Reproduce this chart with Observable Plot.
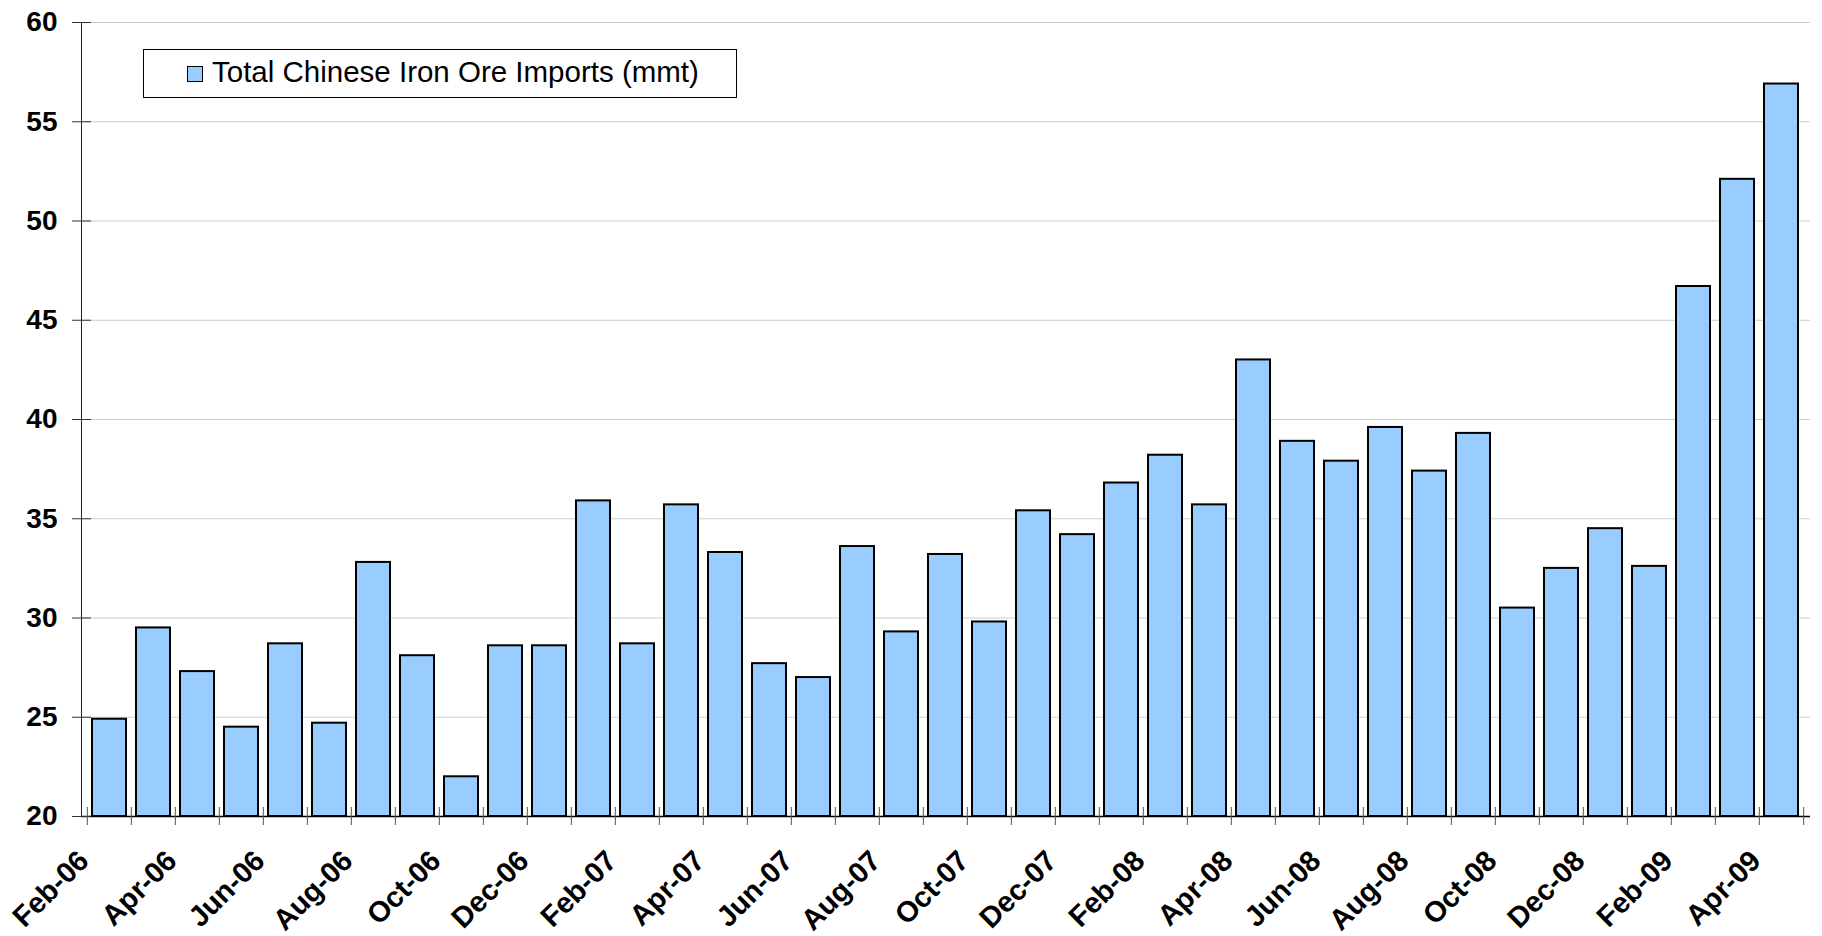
<!DOCTYPE html>
<html><head><meta charset="utf-8">
<script src="https://cdn.jsdelivr.net/npm/d3@7"></script>
<script src="https://cdn.jsdelivr.net/npm/@observablehq/plot@0.6"></script>
<style>
body{margin:0;background:#fff;}
#wrap{position:relative;width:1822px;height:936px;overflow:hidden;}
#legend{position:absolute;left:143px;top:49px;width:592px;height:47px;border:1px solid #000;background:#fff;font-family:"Liberation Sans",Arial,sans-serif;}
#legend .sw{position:absolute;left:43px;top:16px;width:14px;height:14px;border:1.5px solid #000;background:#99ccff;}
#legend .lt{position:absolute;left:68px;top:7px;font-size:29.5px;line-height:29.5px;white-space:nowrap;color:#000;}
</style></head><body>
<div id="wrap"><div id="chart"></div><div id="legend"><span class="sw"></span><span class="lt"></span></div></div>
<script>
const months = ["Feb-06","Mar-06","Apr-06","May-06","Jun-06","Jul-06","Aug-06","Sep-06","Oct-06","Nov-06","Dec-06",
  "Jan-07","Feb-07","Mar-07","Apr-07","May-07","Jun-07","Jul-07","Aug-07","Sep-07","Oct-07","Nov-07","Dec-07",
  "Jan-08","Feb-08","Mar-08","Apr-08","May-08","Jun-08","Jul-08","Aug-08","Sep-08","Oct-08","Nov-08","Dec-08",
  "Jan-09","Feb-09","Mar-09","Apr-09"];
const imports = [24.9,29.5,27.3,24.5,28.7,24.7,32.8,28.1,22.0,28.6,28.6,
  35.9,28.7,35.7,33.3,27.7,27.0,33.6,29.3,33.2,29.8,35.4,34.2,
  36.8,38.2,35.7,43.0,38.9,37.9,39.6,37.4,39.3,30.5,32.5,34.5,
  32.6,46.7,52.1,56.9];
const yTicks = [20,25,30,35,40,45,50,55,60];
const seriesName = "Total Chinese Iron Ore Imports (mmt)";

const data = months.map((m,i)=>({month:m, value:imports[i]}));
const labelMonths = months.filter((m,i)=>i%2===0);
const W=1822,H=936,mL=81,mR=12,mT=22,mB=120;
const step=(W-mL-mR)/months.length;

const chart = Plot.plot({
  width:W,height:H,marginLeft:mL,marginRight:mR,marginTop:mT,marginBottom:mB,
  style:{background:"#fff",overflow:"visible",fontFamily:"'Liberation Sans', Arial, sans-serif",color:"#000"},
  x:{type:"band",domain:months,paddingInner:0.22,paddingOuter:0.11,axis:null},
  y:{domain:[20,60],axis:null},
  marks:[
    Plot.gridY(yTicks.slice(1),{stroke:"#cccccc",strokeOpacity:1,strokeWidth:1}),
    Plot.barY(data,{x:"month",y1:20,y2:"value",fill:"#99ccff",stroke:"#000",strokeWidth:2}),
    Plot.ruleY([20],{stroke:"#000",strokeWidth:1.5}),
    Plot.frame({anchor:"left",stroke:"#222"}),
    Plot.axisY(yTicks,{tickSize:19,dx:10,tickFormat:()=>"",label:null,stroke:"#333"}),
    Plot.axisY(yTicks,{tickSize:0,tickPadding:24,fontSize:28,fontWeight:"bold",label:null,fill:"#000"}),
    Plot.axisX(months,{tickSize:18,dy:-9,dx:-step/2,tickFormat:()=>"",label:null,stroke:"#555"}),
    Plot.axisX([months[months.length-1]],{tickSize:18,dy:-9,dx:step/2,tickFormat:()=>"",label:null,stroke:"#555"}),
    Plot.axisX(labelMonths,{tickSize:0,tickPadding:0,tickRotate:-45,lineAnchor:"bottom",dx:-19,dy:46,fontSize:29,fontWeight:"bold",label:null,fill:"#000"})
  ]
});
document.getElementById("chart").appendChild(chart);
document.querySelector("#legend .lt").textContent=seriesName;
</script>
</body></html>
